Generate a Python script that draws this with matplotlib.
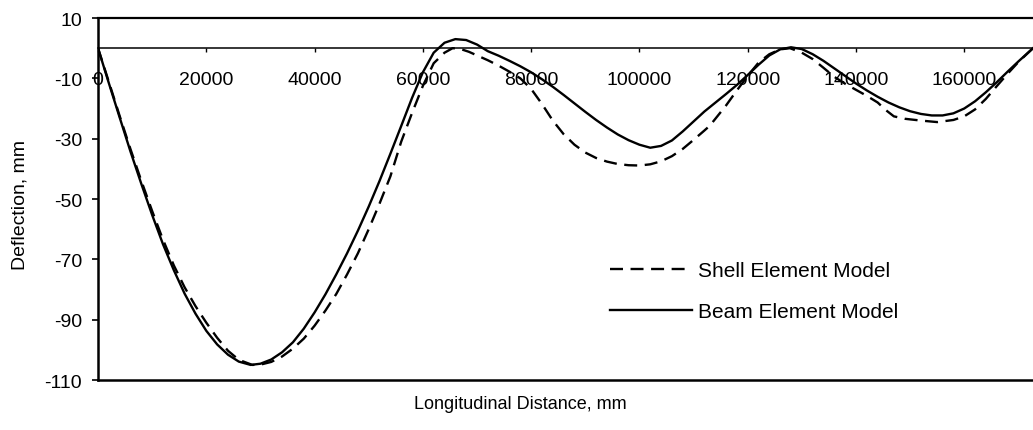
import matplotlib
matplotlib.use("Agg")
import matplotlib.pyplot as plt

# ---- data ----
beam_x = [0, 2000, 4000, 6000, 8000, 10000, 12000, 14000, 16000, 18000, 20000, 22000,
          24000, 26000, 28200, 30000, 32000, 34000, 36000, 38000, 40000, 42000, 44000,
          46000, 48000, 50000, 52000, 54000, 56000, 58000, 60000, 62000, 64000, 66000,
          68000, 70000, 72000, 74000, 76000, 78000, 80000, 82000, 84000, 86000, 88000,
          90000, 92000, 94000, 96000, 98000, 100000, 102000, 104000, 106000, 108000,
          110000, 112000, 114000, 116000, 118000, 120000, 122000, 124000, 126000, 128000,
          130000, 132000, 134000, 136000, 138000, 140000, 142000, 144000, 146000, 148000,
          150000, 152000, 154000, 156000, 158000, 160000, 162000, 164000, 166000, 168000,
          170000, 172700]
beam_y = [0, -11.6, -23, -34.3, -45, -55.3, -65, -73.6, -81.4, -88, -93.7, -98.2,
          -101.6, -103.9, -105, -104.6, -103.2, -100.8, -97.5, -93, -87.6, -81.6, -75,
          -68, -60.5, -52.5, -44, -35, -25.8, -16.5, -8, -1.5, 1.8, 3,
          2.7, 1.2, -1.0, -2.5, -4.2, -6.0, -8.0, -10.3, -12.8, -15.5, -18.3,
          -21.1, -23.8, -26.3, -28.6, -30.5, -32, -33, -32.4, -30.6, -27.6,
          -24.3, -21, -18.1, -15.2, -12.2, -8.9, -5.5, -2.4, -0.4, 0.3,
          -0.3, -2, -4.2, -6.7, -9.2, -11.7, -14, -16.1, -18, -19.6,
          -20.9, -21.8, -22.3, -22.3, -21.6, -20, -17.6, -14.6, -11.3, -7.8,
          -4.4, 0]

shell_x = [0, 2000, 4000, 6000, 8000, 10000, 12000, 14000, 16000, 18000, 20000, 22000,
           24000, 26000, 28500, 30000, 32000, 34000, 36000, 38000, 40000, 42000, 44000,
           46000, 48000, 50000, 52000, 54000, 56000, 58000, 60000, 62000, 64000, 65500,
           67000, 68500, 70000, 72000, 74000, 76000, 78000, 80000, 82000, 84000, 86000,
           88000, 90000, 92000, 94000, 96000, 98000, 100000, 102000, 104000, 106000,
           108000, 110000, 112000, 113000, 116000, 118000, 120000, 122000, 124000, 126000,
           127800, 130000, 132000, 134000, 136000, 138000, 140000, 142000, 144000, 145500,
           147000, 149000, 152000, 155000, 158000, 160000, 162000, 164000, 166000, 168000,
           170000, 172700]
shell_y = [0, -11.2, -22.5, -33.5, -44, -54, -63.5, -72, -79.3, -85.5, -91, -96,
           -100.3, -103.3, -105, -104.9, -104, -102.2, -99.6, -96.3, -92, -87, -81.5,
           -75, -68, -60, -51.5, -42.5, -31, -21.5, -12.5, -5, -1.5, 0,
           -0.3, -1.2, -2.4, -4, -5.8, -7.8, -10.0, -13.5, -18.5, -24, -28.5,
           -32, -34.6, -36.4, -37.6, -38.4, -38.8, -38.9, -38.5, -37.5, -35.8,
           -33.4, -30.4, -27.3, -25.7, -19, -14, -9.2, -4.8, -2, -0.4,
           0, -1.5, -3.6, -6.5, -9.5, -11.8, -13.8, -15.8, -18, -20.5,
           -22.6, -23.4, -24, -24.5, -23.8, -22.6, -20.3, -16.8, -12.6, -8.5,
           -4.6, 0]

x_ticks = [0, 20000, 40000, 60000, 80000, 100000, 120000, 140000, 160000]
y_ticks = [-110, -90, -70, -50, -30, -10, 10]

series_labels = ["Shell Element Model", "Beam Element Model"]
x_label = "Longitudinal Distance, mm"
y_label = "Deflection, mm"

plt.rcParams['font.family'] = ['Liberation Sans', 'DejaVu Sans']

fig = plt.figure(figsize=(10.33, 4.31), dpi=100)
ax = fig.add_axes([0.0949, 0.1160, 0.9051, 0.8399])

ls_shell, = ax.plot(shell_x, shell_y, color='black', lw=1.7, linestyle=(0, (5.5, 3.2)),
                    label=series_labels[0])
ls_beam, = ax.plot(beam_x, beam_y, color='black', lw=1.7, label=series_labels[1])

ax.set_xlim(0, 172700)
ax.set_ylim(-110, 10)

ax.set_xticks(x_ticks)
ax.set_xticklabels([str(v) for v in x_ticks])
ax.set_yticks(y_ticks)
ax.set_yticklabels([str(v) for v in y_ticks])

ax.spines['right'].set_visible(False)
ax.spines['top'].set_linewidth(1.6)
ax.spines['left'].set_linewidth(1.8)
ax.spines['bottom'].set_position(('data', 0))
ax.spines['bottom'].set_linewidth(1.1)
ax.axhline(-110, color='black', lw=1.8, clip_on=False)

ax.tick_params(axis='x', direction='out', length=3, width=1.0, pad=13.5, labelsize=14)
ax.tick_params(axis='y', direction='out', length=4.5, width=1.2, pad=7, labelsize=14)

fig.text(520 / 1033, 1 - 405 / 431, x_label, ha='center', va='center', fontsize=13)
fig.text(0.019, 1 - 205 / 431, y_label, ha='center', va='center', rotation=90, fontsize=14)

ax.legend(handles=[ls_shell, ls_beam], loc='upper left',
          bbox_to_anchor=(610 / 1033, 1 - 262 / 431), bbox_transform=fig.transFigure,
          frameon=False, fontsize=15, borderpad=0, borderaxespad=0,
          handlelength=3.95, handletextpad=0.25, labelspacing=1.05)

fig.savefig("out.png", dpi=100)
